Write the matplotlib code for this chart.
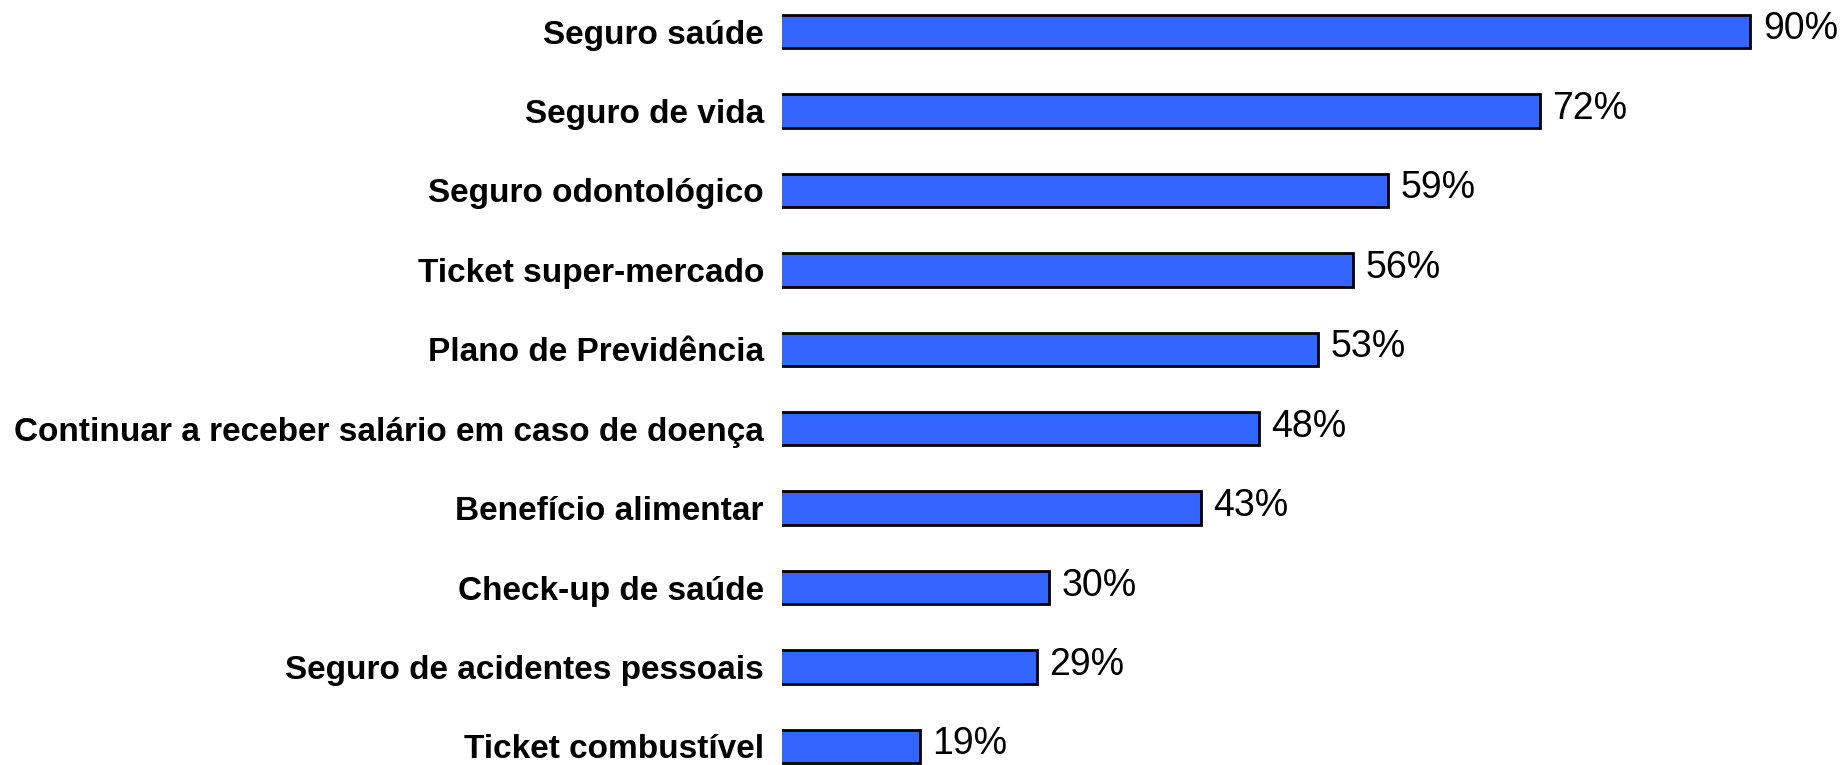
import matplotlib
matplotlib.use("Agg")
import matplotlib.pyplot as plt

categories = [
    "Seguro saúde",
    "Seguro de vida",
    "Seguro odontológico",
    "Ticket super-mercado",
    "Plano de Previdência",
    "Continuar a receber salário em caso de doença",
    "Benefício alimentar",
    "Check-up de saúde",
    "Seguro de acidentes pessoais",
    "Ticket combustível",
]
values = [90, 72, 59, 56, 53, 48, 43, 30, 29, 19]
value_labels = [f"{v}%" for v in values]

plt.rcParams['font.family'] = ['Liberation Sans', 'DejaVu Sans']

W, H = 1845, 765
fig = plt.figure(figsize=(W / 100, H / 100), dpi=100)
ax_left = 782 / W
ax = fig.add_axes([ax_left, 0, 1 - ax_left, 1])

n = len(categories)
ypos = list(range(n - 1, -1, -1))
xmin, xmax = 7.2, 98.1

ax.barh(ypos, values, height=0.42, left=0, color="#3366FF",
        edgecolor="black", linewidth=2.0, zorder=2)

for y, v, lab in zip(ypos, values, value_labels):
    ax.annotate(lab, xy=(v, y), xytext=(9, 1.5), textcoords="offset points",
                ha="left", va="center", fontsize=27, color="black")

for y, cat in zip(ypos, categories):
    ax.annotate(cat, xy=(xmin, y), xytext=(-13, -2.5), textcoords="offset points",
                ha="right", va="center", fontsize=24, fontweight="bold",
                color="black", annotation_clip=False)

ax.set_xlim(xmin, xmax)
ax.set_ylim(-0.233, n - 1 + 0.397)
ax.set_yticks([])
ax.set_xticks([])
for s in ax.spines.values():
    s.set_visible(False)

fig.savefig("out.png", dpi=100)
